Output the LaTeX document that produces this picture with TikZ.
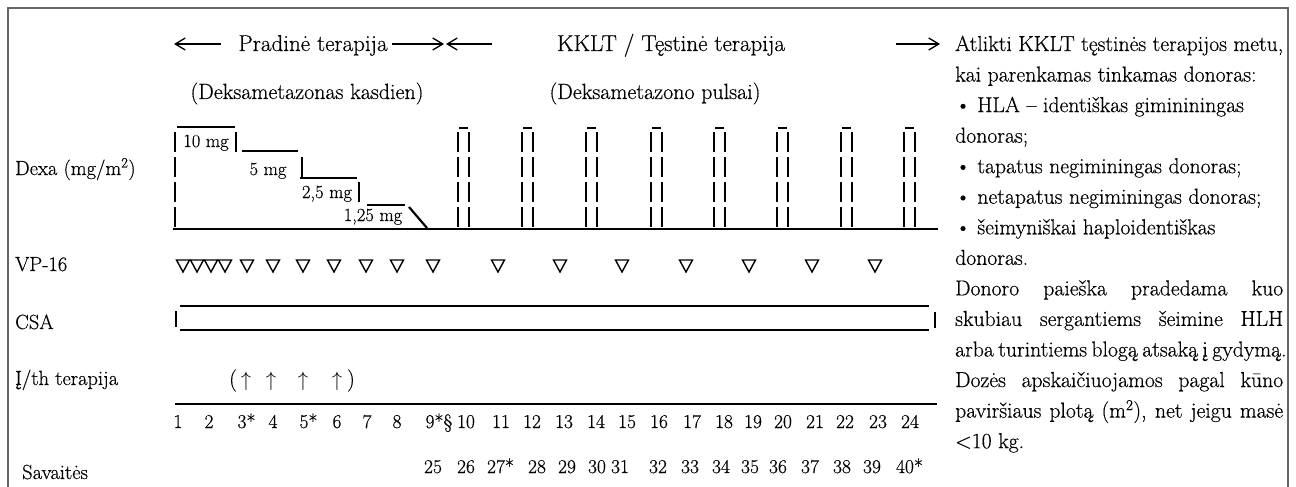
\documentclass[tikz,border=0pt]{standalone}
\usepackage{fontspec}
\setmainfont{Latin Modern Roman}[FakeBold=0.4]
\usetikzlibrary{arrows.meta}
\begin{document}
\begin{tikzpicture}[x=1pt,y=-1pt,
  lbl/.style={font=\fontsize{20.5}{24}\selectfont, inner sep=0pt, anchor=base west},
  hdr/.style={font=\fontsize{23}{26}\selectfont, inner sep=0pt, anchor=base},
  sub/.style={font=\fontsize{22}{25}\selectfont, inner sep=0pt, anchor=base},
  dose/.style={font=\fontsize{18.5}{21}\selectfont, inner sep=0pt, anchor=base},
  wk/.style={font=\fontsize{19.5}{22}\selectfont, inner sep=0pt, anchor=base},
  rt/.style={font=\fontsize{21.7}{25}\selectfont, inner sep=0pt, anchor=base west},
  ith/.style={font=\fontsize{22}{24}\selectfont, inner sep=0pt, anchor=base},
  pline/.style={line width=2.2pt},
  pdash/.style={line width=2.2pt, dash pattern=on 20pt off 5pt},
  frame/.style={draw=black!60, line width=2pt},
  harrow/.style={line width=1.3pt, -{Straight Barb[length=10pt,width=12pt,line width=1.3pt]}},
  tri/.style={line width=1.4pt, line join=miter},
]
\useasboundingbox (0,0) rectangle (1296,487);
% frame (open at the bottom)
\draw[frame] (8,487) -- (8,8) -- (1288,8) -- (1288,487);

% header
\node[hdr] (h1) at (313,51) {Pradinė terapija};
\node[hdr] (h2) at (671,51) {KKLT / Tęstinė terapija};
\coordinate (a1s) at (221,44); \coordinate (a1e) at (174,44);
\coordinate (a2s) at (392,44); \coordinate (a2e) at (444,44);
\coordinate (a3s) at (492,44); \coordinate (a3e) at (446,44);
\coordinate (a4s) at (896,44); \coordinate (a4e) at (940,44);
\draw[harrow] (a1s) -- (a1e);
\draw[harrow] (a2s) -- (a2e);
\draw[harrow] (a3s) -- (a3e);
\draw[harrow] (a4s) -- (a4e);
\node[sub] (s1) at (307,99) {(Deksametazonas kasdien)};
\node[sub] (s2) at (655,99) {(Deksametazono pulsai)};

% row labels
\node[lbl] (ldexa) at (15,175) {Dexa (mg/m\textsuperscript{2})};
\node[lbl] (lvp) at (15,271) {VP-16};
\node[lbl] (lcsa) at (15,329) {CSA};
\node[lbl] (lith) at (15,385) {Į/th terapija};
\node[lbl] (lsav) at (22,479) {Savaitės};

% Dexa daily taper
\draw[pline] (173,229) -- (938,229);
\draw[pdash] (175,132) -- (175,228);
\draw[pline] (177,127) -- (235,127);
\draw[pline] (236,132) -- (236,152);
\draw[pline] (242,151) -- (298,151);
\draw[pline] (302,157) -- (302,177);
\draw[pline] (300,178) -- (357,178);
\draw[pline] (359,182) -- (359,202);
\draw[pline] (367,205) -- (405,205);
\draw[pline] (409,207) -- (427,228);
\node[dose] (d10) at (206,147) {10 mg};
\node[dose] (d5) at (268,175) {5 mg};
\node[dose] (d25) at (327,198) {2,5 mg};
\node[dose] (d125) at (373,221) {1,25 mg};

% Dexa pulses
\foreach \c in {463.5,527.5,591.5,656.5,719.5,782.5,846.5,909.5} {
  \draw[pline] (\c-4.5,128) -- (\c+4.5,128);
  \draw[pdash] (\c-5.5,132) -- (\c-5.5,228);
  \draw[pdash] (\c+5.5,132) -- (\c+5.5,228);
}

% VP-16 triangles
\foreach \x in {183,197,211,225,247,273,303,334,366,397,433,498,560,622,686,749,812,875} {
  \draw[tri] (\x-6.5,260) -- (\x+6.5,260) -- (\x,272) -- cycle;
}

% CSA
\draw[pline] (180,306) -- (929,306);
\draw[pline] (180,330) -- (929,330);
\draw[pline] (176,311) -- (176,327);
\draw[pline] (935,312) -- (935,328);

% intrathecal
\node[ith] (ip1) at (233,386) {(};
\node[ith] (ia1) at (246,386) {$\uparrow$};
\node[ith] (ia2) at (271,386) {$\uparrow$};
\node[ith] (ia3) at (303,386) {$\uparrow$};
\node[ith] (ia4) at (337,386) {$\uparrow$};
\node[ith] (ip2) at (351,386) {)};

% week axis
\draw[pline] (175,404) -- (937,404);
\foreach \x/\t [count=\i] in {178/1,209/2,242/3\rlap{*},273/4,304/5\rlap{*},337/6,367/7,397/8,430/9\rlap{*§},466/10,501/11,532/12,564/13,596/14,627/15,659/16,692/17,724/18,753/19,783/20,815/21,845/22,878/23,910/24} {
  \node[wk] (w\i) at (\x,428) {\t};
}
\foreach \x/\t [count=\i] in {433/25,466/26,496/27\rlap{*},537/28,567/29,597/30,620/31,658/32,690/33,721/34,750/35,778/36,810/37,842/38,872/39,905/40\rlap{*}} {
  \node[wk] (v\i) at (\x,473) {\t};
}

% right text
\node[rt] (r1) at (955,51) {\makebox[328pt][s]{Atlikti KKLT tęstinės terapijos metu,}};
\node[rt] (r2) at (955,81.55) {kai parenkamas tinkamas donoras:};
\node[rt] (r3) at (955,112.1) {\textbullet{} HLA – identiškas gimininingas};
\node[rt] (r4) at (955,142.65) {donoras;};
\node[rt] (r5) at (955,173.2) {\textbullet{} tapatus negiminingas donoras;};
\node[rt] (r6) at (955,203.75) {\textbullet{} netapatus negiminingas donoras;};
\node[rt] (r7) at (955,234.3) {\textbullet{} šeimyniškai haploidentiškas};
\node[rt] (r8) at (955,264.85) {donoras.};
\node[rt] (r9) at (955,295.4) {\makebox[328pt][s]{Donoro paieška pradedama kuo}};
\node[rt] (r10) at (955,325.95) {\makebox[328pt][s]{skubiau sergantiems šeimine HLH}};
\node[rt] (r11) at (955,356.5) {\makebox[328pt][s]{arba turintiems blogą atsaką į gydymą.}};
\node[rt] (r12) at (955,387.05) {\makebox[328pt][s]{Dozės apskaičiuojamos pagal kūno}};
\node[rt] (r13) at (955,417.6) {\makebox[328pt][s]{paviršiaus plotą (m\textsuperscript{2}), net jeigu masė}};
\node[rt] (r14) at (955,448.15) {<10 kg.};
\end{tikzpicture}
\end{document}
